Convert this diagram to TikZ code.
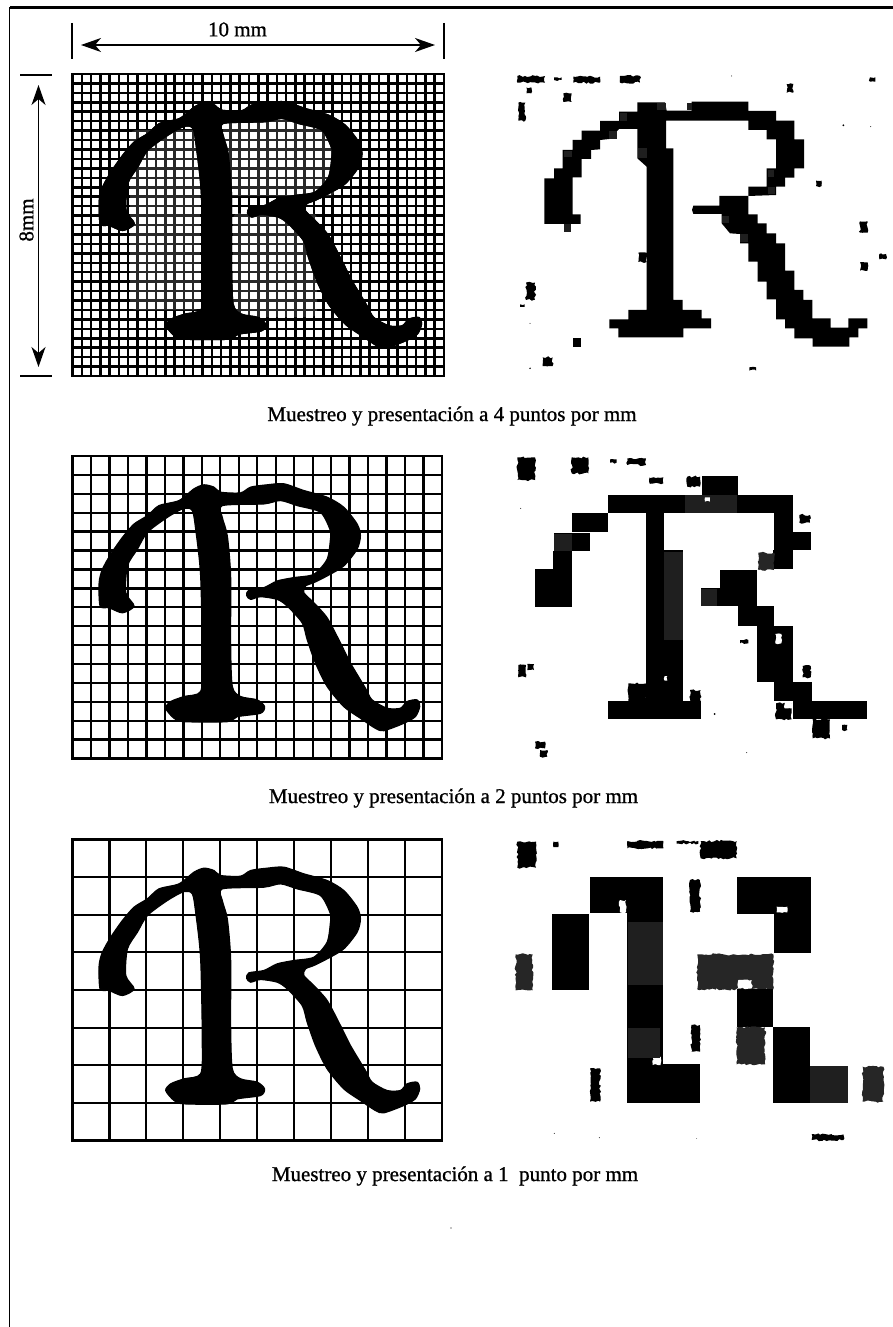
\documentclass[tikz,border=0pt]{standalone}
\usepackage{fontspec}
\setmainfont{Liberation Serif}
\newfontfamily\scan[FakeBold=0.9]{Liberation Serif}
\usetikzlibrary{arrows.meta,decorations.pathmorphing}
\newcommand{\Routline}{
(148,490) (145,420) (155,380) (180,335) (215,285) (250,245) (290,220) (325,190) (385,175) (430,140) (460,128) (490,135) (510,150) (570,152) (600,135) (650,128) (700,125) (760,145) (830,165) (880,195) (920,245) (930,280) (920,320) (880,370) (830,400) (790,420) (765,430) (760,450) (790,480) (830,525) (870,600) (900,660) (945,735) (965,770) (1010,795) (1050,795) (1070,775) (1100,770) (1108,790) (1095,820) (1060,840) (1000,862) (975,855) (930,825) (880,790) (830,730) (795,660) (770,590) (755,540) (710,490) (680,470) (630,462) (600,470) (588,458) (595,442) (640,435) (680,415) (730,405) (790,395) (830,350) (840,290) (840,265) (810,210) (740,190) (690,175) (640,185) (515,190) (515,225) (530,280) (540,400) (540,600) (545,730) (570,760) (620,770) (642,790) (630,810) (560,820) (530,835) (400,835) (370,825) (345,795) (360,775) (400,760) (450,745) (455,650) (450,400) (435,260) (425,205) (400,198) (350,225) (290,270) (260,320) (230,370) (225,450) (250,490) (215,510) (175,495)}
\newcommand{\Rfill}[4]{%
  \begin{scope}[shift={(#1,#2)},xscale=#3/1110,yscale=#4/903,shift={(-65,-42)}]
    \filldraw[black,line width=1.2pt,line join=round] plot[smooth cycle,tension=0.45] coordinates {\Routline};
  \end{scope}}
% x y w h nx ny gridwidth
\newcommand{\gridR}[7]{%
  \foreach \i in {1,...,\numexpr#5-1\relax}{\draw[line width=#7pt] ({#1+\i*#3/#5},#2) -- ({#1+\i*#3/#5},{#2+#4});}
  \foreach \j in {1,...,\numexpr#6-1\relax}{\draw[line width=#7pt] (#1,{#2+\j*#4/#6}) -- ({#1+#3},{#2+\j*#4/#6});}
  \Rfill{#1}{#2}{#3}{#4}
  \draw[line width=2.8pt] (#1,#2) rectangle ({#1+#3},{#2+#4});
}
\newcommand{\bx}[4]{\fill[black] (#1,#2) rectangle (#3,#4);}
\newcommand{\gx}[4]{\fill[black!88] (#1,#2) rectangle (#3,#4);}
\newcommand{\gblob}[4]{\path[blobstyle,fill=black!85] (#1,#2) rectangle (#3,#4);}
\newcommand{\blob}[4]{\path[blobstyle] (#1,#2) rectangle (#3,#4);}
\newcommand{\wblob}[4]{\path[blobstyle,fill=white] (#1,#2) rectangle (#3,#4);}
\tikzset{
  blobstyle/.style={fill=black,decorate,decoration={random steps,segment length=2.5pt,amplitude=1.1pt}},
  dimline/.style={line width=2pt},
  dimarrow/.style={line width=1.3pt,{Stealth[length=20pt,width=14pt,inset=6pt]}-{Stealth[length=20pt,width=14pt,inset=6pt]}},
  caption/.style={inner sep=0pt,font=\scan\fontsize{21}{24}\selectfont},
  light/.style={fill=white,fill opacity=0.16,rounded corners=6pt}
}
\begin{document}
\begin{tikzpicture}[x=1pt,y=-1pt]
\pgfmathsetseed{7}
\useasboundingbox (0,0) rectangle (893,1327);
\fill[white] (0,0) rectangle (893,1327);
% frame
\draw[line width=2.4pt] (893,7.5) -- (9.5,7.5);
\draw[line width=1.5pt] (9.5,7.5) -- (9.5,1327);
% dimension marks
\coordinate (tl) at (72,23); \coordinate (tlb) at (72,59);
\coordinate (tr) at (444,23); \coordinate (trb) at (444,59);
\coordinate (ll) at (20,75); \coordinate (llb) at (52,75);
\coordinate (lo) at (20,376); \coordinate (lob) at (52,376);
\coordinate (ha) at (81,45); \coordinate (hb) at (435,45);
\coordinate (va) at (38.5,85); \coordinate (vb) at (38.5,367);
\draw[dimline] (tl) -- (tlb);
\draw[dimline] (tr) -- (trb);
\draw[dimline] (ll) -- (llb);
\draw[dimline] (lo) -- (lob);
\draw[dimarrow] (ha) -- (hb);
\draw[dimarrow] (va) -- (vb);
\node[caption] (ten) at (237.5,29.5) {10 mm};
\node[caption,rotate=90] (eight) at (26.5,220) {8mm};
% grids with letters
\gridR{72.5}{74}{371.5}{302}{40}{32}{2.5}
\path[light] (130,130) rectangle (200,310);
\path[light] (223,118) rectangle (335,196);
\path[light] (233,213) rectangle (317,317);
\Rfill{72.5}{74}{371.5}{302}
\gridR{72.5}{456}{369.5}{302.5}{20}{16}{2.3}
\gridR{72.5}{839.5}{369.5}{301}{10}{8}{2.1}
% captions
\node[caption] (c1) at (452,416) {Muestreo y presentación a 4 puntos por mm};
\node[caption] (c2) at (453.5,798) {Muestreo y presentación a 2 puntos por mm};
\node[caption] (c3) at (455,1176) {Muestreo y presentación a 1\ \ punto por mm};
\fill (451,1228) circle (0.6);
% ---- right 1
\begin{scope}[shift={(490,60)},scale=1/3]
\fill[black] (163,492)--(163,355)--(192,355)--(192,325)--(218,325)--(218,270)--(248,270)--(248,240)--(275,240)--(275,212)--(330,212)--(330,183)--(387,183)--(387,155)--(442,155)--(442,127)--(525,127)--(530,152)--(605,152)--(605,125)--(775,125)--(775,153)--(858,153)--(858,182)--(913,182)--(913,238)--(942,238)--(942,325)--(913,325)--(913,353)--(885,353)--(885,380)--(858,380)--(858,405)--(775,408)--(775,380)--(830,380)--(830,325)--(858,325)--(858,238)--(830,238)--(830,210)--(775,210)--(775,182)--(528,182)--(528,265)--(550,265)--(550,720)--(578,720)--(578,750)--(635,750)--(635,775)--(663,775)--(663,805)--(580,805)--(580,832)--(385,832)--(385,805)--(358,805)--(358,778)--(415,778)--(415,750)--(470,750)--(470,320)--(442,295)--(442,207)--(387,207)--(358,237)--(330,240)--(330,268)--(303,270)--(303,297)--(275,297)--(275,352)--(248,352)--(248,463)--(272,463)--(272,492)--cycle;
\fill[black] (610,437)--(688,437)--(688,408)--(775,408)--(775,463)--(803,463)--(803,490)--(830,490)--(830,520)--(858,520)--(858,550)--(885,550)--(885,632)--(913,632)--(913,690)--(940,690)--(940,720)--(967,720)--(967,775)--(1022,775)--(1022,803)--(1075,803)--(1075,775)--(1132,775)--(1132,805)--(1105,805)--(1105,832)--(1078,832)--(1078,860)--(968,860)--(968,835)--(913,835)--(913,805)--(885,805)--(885,778)--(858,778)--(858,718)--(830,718)--(830,665)--(803,665)--(803,605)--(775,605)--(775,550)--(750,550)--(750,522)--(720,520)--(695,490)--(695,462)--(610,462)--(606,450)--cycle;
\gx{390}{160}{412}{182}\gx{358}{212}{382}{236}\gx{445}{265}{470}{295}\gx{500}{130}{528}{150}\gx{590}{128}{606}{150}\gx{750}{522}{775}{545}
\gx{835}{330}{852}{350}\gx{835}{382}{855}{402}\gx{222}{272}{245}{292}\gx{222}{492}{242}{516}\gx{695}{468}{718}{490}
\blob{82}{48}{165}{68}\blob{192}{52}{215}{60}\blob{250}{50}{330}{68}\blob{390}{48}{450}{68}\blob{110}{82}{124}{100}\blob{220}{100}{245}{126}\blob{85}{128}{106}{182}\blob{890}{72}{910}{98}\blob{1140}{52}{1156}{65}\blob{1110}{484}{1133}{518}\blob{1168}{582}{1188}{598}\blob{1110}{607}{1133}{632}\blob{108}{668}{135}{720}
\bx{248}{834}{273}{862}\blob{158}{892}{188}{918}\blob{445}{578}{470}{606}\blob{978}{362}{995}{378}\blob{90}{733}{104}{741}\blob{778}{922}{798}{932}
\fill (1060,196) circle (3);\fill (725,48) circle (1.5);\fill (1142,200) circle (1.5);\fill (120,925) circle (2.5);\fill (120,790) circle (1.5);
\end{scope}
% ---- right 2
\begin{scope}[shift={(490,440)},scale=1/3]
\bx{135}{388}{245}{500}\bx{188}{332}{245}{388}\bx{192}{278}{300}{332}\bx{245}{220}{355}{276}
\bx{355}{165}{910}{218}\bx{635}{107}{743}{165}\bx{853}{218}{910}{275}\bx{853}{275}{963}{330}\bx{850}{330}{910}{388}
\bx{468}{218}{522}{785}\bx{522}{330}{578}{785}\bx{355}{782}{632}{838}\blob{415}{730}{470}{785}\blob{600}{750}{632}{785}
\bx{690}{390}{800}{445}\bx{632}{445}{800}{498}\bx{743}{498}{853}{558}\bx{800}{558}{908}{725}\bx{853}{725}{965}{782}\bx{910}{782}{1130}{838}\blob{858}{790}{905}{838}\blob{968}{838}{1020}{895}
\gx{585}{165}{740}{218}\gx{522}{335}{578}{600}\gblob{805}{338}{852}{390}\gx{192}{282}{245}{332}\gx{632}{448}{680}{498}
\wblob{645}{172}{660}{185}\wblob{856}{582}{874}{610}\wblob{524}{708}{532}{722}\wblob{884}{785}{906}{805}
\blob{82}{52}{135}{120}\blob{245}{52}{295}{100}\blob{412}{55}{468}{75}\blob{360}{58}{380}{68}\blob{478}{112}{520}{130}\blob{592}{110}{630}{140}\blob{928}{225}{960}{248}\blob{85}{675}{108}{712}\blob{112}{672}{132}{690}\blob{938}{678}{962}{712}\blob{1056}{855}{1072}{870}\blob{135}{905}{165}{925}\blob{150}{930}{172}{950}\blob{750}{600}{775}{610}
\fill (674,822) circle (3);\fill (770,938) circle (1.5);\fill (92,205) circle (1.5);
\end{scope}
% ---- right 3
\begin{scope}[shift={(490,825)},scale=1/3]
\bx{300}{157}{410}{265}\bx{410}{157}{520}{720}\bx{410}{718}{630}{835}\bx{187}{268}{297}{496}\gblob{77}{388}{128}{496}
\bx{740}{157}{963}{267}\bx{853}{267}{963}{385}\gblob{622}{388}{850}{493}\bx{740}{493}{850}{607}\gblob{740}{607}{825}{718}\bx{850}{607}{960}{835}\gx{960}{723}{1075}{835}\gblob{1118}{725}{1180}{830}
\wblob{860}{245}{892}{262}\wblob{745}{465}{785}{490}\wblob{390}{225}{408}{262}\wblob{488}{695}{512}{720}
\gx{415}{290}{520}{480}\gx{415}{610}{510}{700}
\blob{82}{50}{138}{128}\blob{412}{48}{520}{70}\blob{632}{48}{740}{100}\blob{190}{50}{205}{66}\blob{600}{165}{630}{260}\blob{604}{600}{630}{680}\blob{300}{730}{330}{830}\blob{965}{928}{1060}{945}\blob{560}{48}{625}{56}
\fill (193,925) circle (1.5);\fill (328,938) circle (1.5);\fill (620,940) circle (1);
\end{scope}
\end{tikzpicture}
\end{document}
